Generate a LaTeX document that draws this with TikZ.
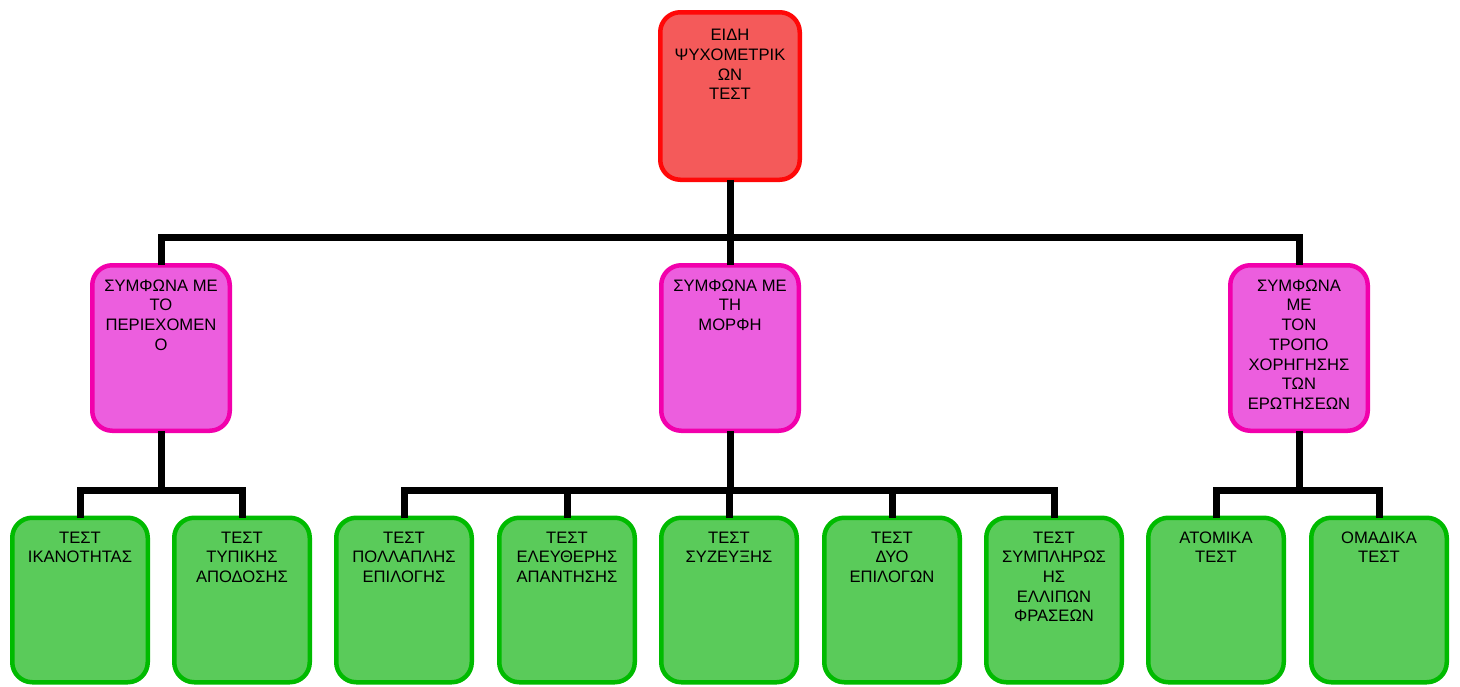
\documentclass[tikz,border=0pt]{standalone}
\usepackage{fontspec}
\setmainfont{Liberation Sans}
\definecolor{redline}{HTML}{FF0808}
\definecolor{redfill}{HTML}{F45A5A}
\definecolor{magline}{HTML}{F200AC}
\definecolor{magfill}{HTML}{EC5EDE}
\definecolor{grnline}{HTML}{00BB00}
\definecolor{grnfill}{HTML}{5ACB5A}
\begin{document}
\begin{tikzpicture}[x=1pt,y=-1pt,
  box/.style={rectangle,rounded corners=20pt,line width=4.5pt,inner sep=0pt,outer sep=0pt},
  rootbox/.style={box,draw=redline,fill=redfill,minimum width=139.5pt,minimum height=167.5pt},
  magbox/.style={box,draw=magline,fill=magfill,minimum width=137.5pt,minimum height=165.5pt},
  grnbox/.style={box,draw=grnline,fill=grnfill,minimum width=135.5pt,minimum height=164.5pt},
  txt/.style={anchor=north,align=center,inner sep=0pt,font=\fontsize{16.6}{19.7}\selectfont,text=black},
  conn/.style={draw=black,line width=7pt,line cap=butt,line join=miter}]
\useasboundingbox (0,0) rectangle (1460,686);
% boxes
\node[rootbox] (root) at (730,96) {};
\node[magbox] (m1) at (161,348) {};
\node[magbox] (m2) at (730,348) {};
\node[magbox] (m3) at (1299,348) {};
\node[grnbox] (g1) at (80,600) {};
\node[grnbox] (g2) at (242,600) {};
\node[grnbox] (g3) at (404,600) {};
\node[grnbox] (g4) at (567,600) {};
\node[grnbox] (g5) at (729,600) {};
\node[grnbox] (g6) at (892,600) {};
\node[grnbox] (g7) at (1054,600) {};
\node[grnbox] (g8) at (1216,600) {};
\node[grnbox] (g9) at (1379,600) {};
% texts
\node[txt] (root-t) at (730,29) {ΕΙΔΗ\\ΨΥΧΟΜΕΤΡΙΚ\\ΩΝ\\ΤΕΣΤ};
\node[txt] (m1-t) at (161,279.5) {ΣΥΜΦΩΝΑ ΜΕ\\ΤΟ\\ΠΕΡΙΕΧΟΜΕΝ\\Ο};
\node[txt] (m2-t) at (730,279.5) {ΣΥΜΦΩΝΑ ΜΕ\\ΤΗ\\ΜΟΡΦΗ};
\node[txt] (m3-t) at (1299,279.5) {ΣΥΜΦΩΝΑ\\ΜΕ\\ΤΟΝ\\ΤΡΟΠΟ\\ΧΟΡΗΓΗΣΗΣ\\ΤΩΝ\\ΕΡΩΤΗΣΕΩΝ};
\node[txt] (g1-t) at (80,531.5) {ΤΕΣΤ\\ΙΚΑΝΟΤΗΤΑΣ};
\node[txt] (g2-t) at (242,531.5) {ΤΕΣΤ\\ΤΥΠΙΚΗΣ\\ΑΠΟΔΟΣΗΣ};
\node[txt] (g3-t) at (404,531.5) {ΤΕΣΤ\\ΠΟΛΛΑΠΛΗΣ\\ΕΠΙΛΟΓΗΣ};
\node[txt] (g4-t) at (567,531.5) {ΤΕΣΤ\\ΕΛΕΥΘΕΡΗΣ\\ΑΠΑΝΤΗΣΗΣ};
\node[txt] (g5-t) at (729,531.5) {ΤΕΣΤ\\ΣΥΖΕΥΞΗΣ};
\node[txt] (g6-t) at (892,531.5) {ΤΕΣΤ\\ΔΥΟ\\ΕΠΙΛΟΓΩΝ};
\node[txt] (g7-t) at (1054,531.5) {ΤΕΣΤ\\ΣΥΜΠΛΗΡΩΣ\\ΗΣ\\ΕΛΛΙΠΩΝ\\ΦΡΑΣΕΩΝ};
\node[txt] (g8-t) at (1216,531.5) {ΑΤΟΜΙΚΑ\\ΤΕΣΤ};
\node[txt] (g9-t) at (1379,531.5) {ΟΜΑΔΙΚΑ\\ΤΕΣΤ};
% connectors
\coordinate (b0) at (730,237);
\coordinate (b1) at (161,490);
\coordinate (b2) at (730,490);
\coordinate (b3) at (1299,490);
\draw[conn] (root.south) -- (b0);
\draw[conn] (m1.north) -- (m1.north |- b0) -- (m3.north |- b0) -- (m3.north);
\draw[conn] (m2.north) -- (b0);
\draw[conn] (m1.south) -- (b1);
\draw[conn] (g1.north) -- (g1.north |- b1) -- (g2.north |- b1) -- (g2.north);
\draw[conn] (m2.south) -- (b2);
\draw[conn] (g3.north) -- (g3.north |- b2) -- (g7.north |- b2) -- (g7.north);
\draw[conn] (g4.north) -- (g4.north |- b2);
\draw[conn] (g5.north) -- (g5.north |- b2);
\draw[conn] (g6.north) -- (g6.north |- b2);
\draw[conn] (m3.south) -- (b3);
\draw[conn] (g8.north) -- (g8.north |- b3) -- (g9.north |- b3) -- (g9.north);
\end{tikzpicture}
\end{document}
